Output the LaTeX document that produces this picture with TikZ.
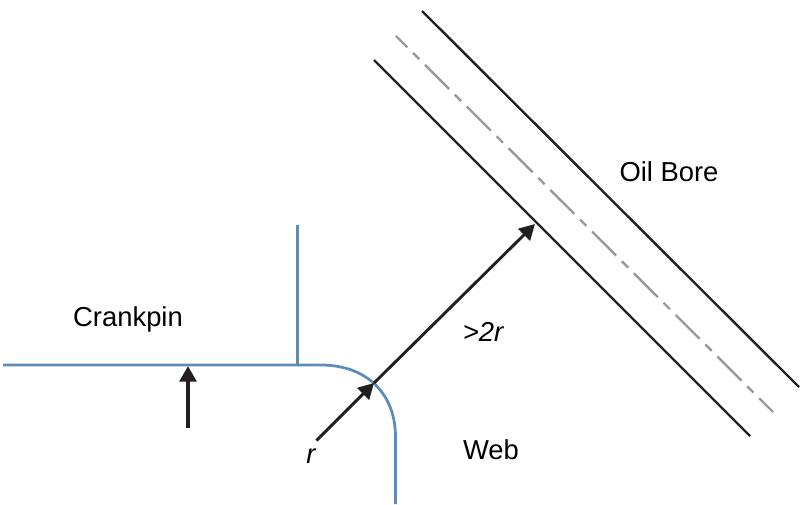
\documentclass[tikz,border=0pt]{standalone}
\usepackage{fontspec}
\setmainfont{Liberation Sans}
\usetikzlibrary{arrows.meta}
\definecolor{webblue}{HTML}{5B8DB8}
\definecolor{axisgray}{HTML}{9A9A9A}
\definecolor{inkblack}{HTML}{231F20}
\tikzset{
    lbl/.style={font=\fontsize{15.6}{18}\selectfont,text=black,inner sep=0pt},
    profile/.style={webblue,line width=.055cm},
    bore/.style={inkblack,line width=.048cm},
    boreaxis/.style={axisgray,line width=.048cm,dash pattern=on .68cm off .16cm on .18cm off .16cm,dash phase=.36cm},
    dim/.style={inkblack,line width=.058cm,-{Triangle[length=.31cm,width=.33cm]}}
}
\begin{document}
\begin{tikzpicture}[x=.02cm,y=-.02cm]
    \useasboundingbox (0,0) rectangle (810,504);
    % fillet profile
    \coordinate (pinL) at (3,365);
    \coordinate (pinR) at (321,365);
    \coordinate (webT) at (395.5,437);
    \coordinate (webB) at (395.5,504);
    \coordinate (stepT) at (297.5,225);
    \coordinate (stepB) at (297.5,365);
    \draw[profile] (pinL) -- (pinR) .. controls (366,365) and (395.5,393) .. (webT) -- (webB);
    \draw[profile] (stepT) -- (stepB);
    % oil bore
    \coordinate (boreAa) at (422,11);
    \coordinate (boreAb) at (799,387);
    \coordinate (boreBa) at (374,60);
    \coordinate (boreBb) at (750,436);
    \coordinate (axisA) at (396,36);
    \coordinate (axisB) at (773,412);
    \draw[bore] (boreAa) -- (boreAb);
    \draw[bore] (boreBa) -- (boreBb);
    \draw[boreaxis] (axisA) -- (axisB);
    % dimensions
    \coordinate (rTail) at (316.5,440.5);
    \coordinate (rTip) at (374,383);
    \coordinate (boreTip) at (535,224);
    \coordinate (pinTail) at (188,428);
    \coordinate (pinTip) at (188,366);
    \draw[dim] (rTail) -- (rTip);
    \draw[dim] (rTip) -- (boreTip);
    \draw[dim,line width=.075cm] (pinTail) -- (pinTip);
    % labels
    \node[lbl] (crankpin) at (128,319.5) {Crankpin};
    \node[lbl] (oilbore) at (669,172) {Oil Bore};
    \node[lbl] (web) at (491,449.5) {Web};
    \node[lbl] (twor) at (483,332) {\itshape >2r};
    \node[lbl] (rlabel) at (311,456) {\itshape r};
\end{tikzpicture}
\end{document}
